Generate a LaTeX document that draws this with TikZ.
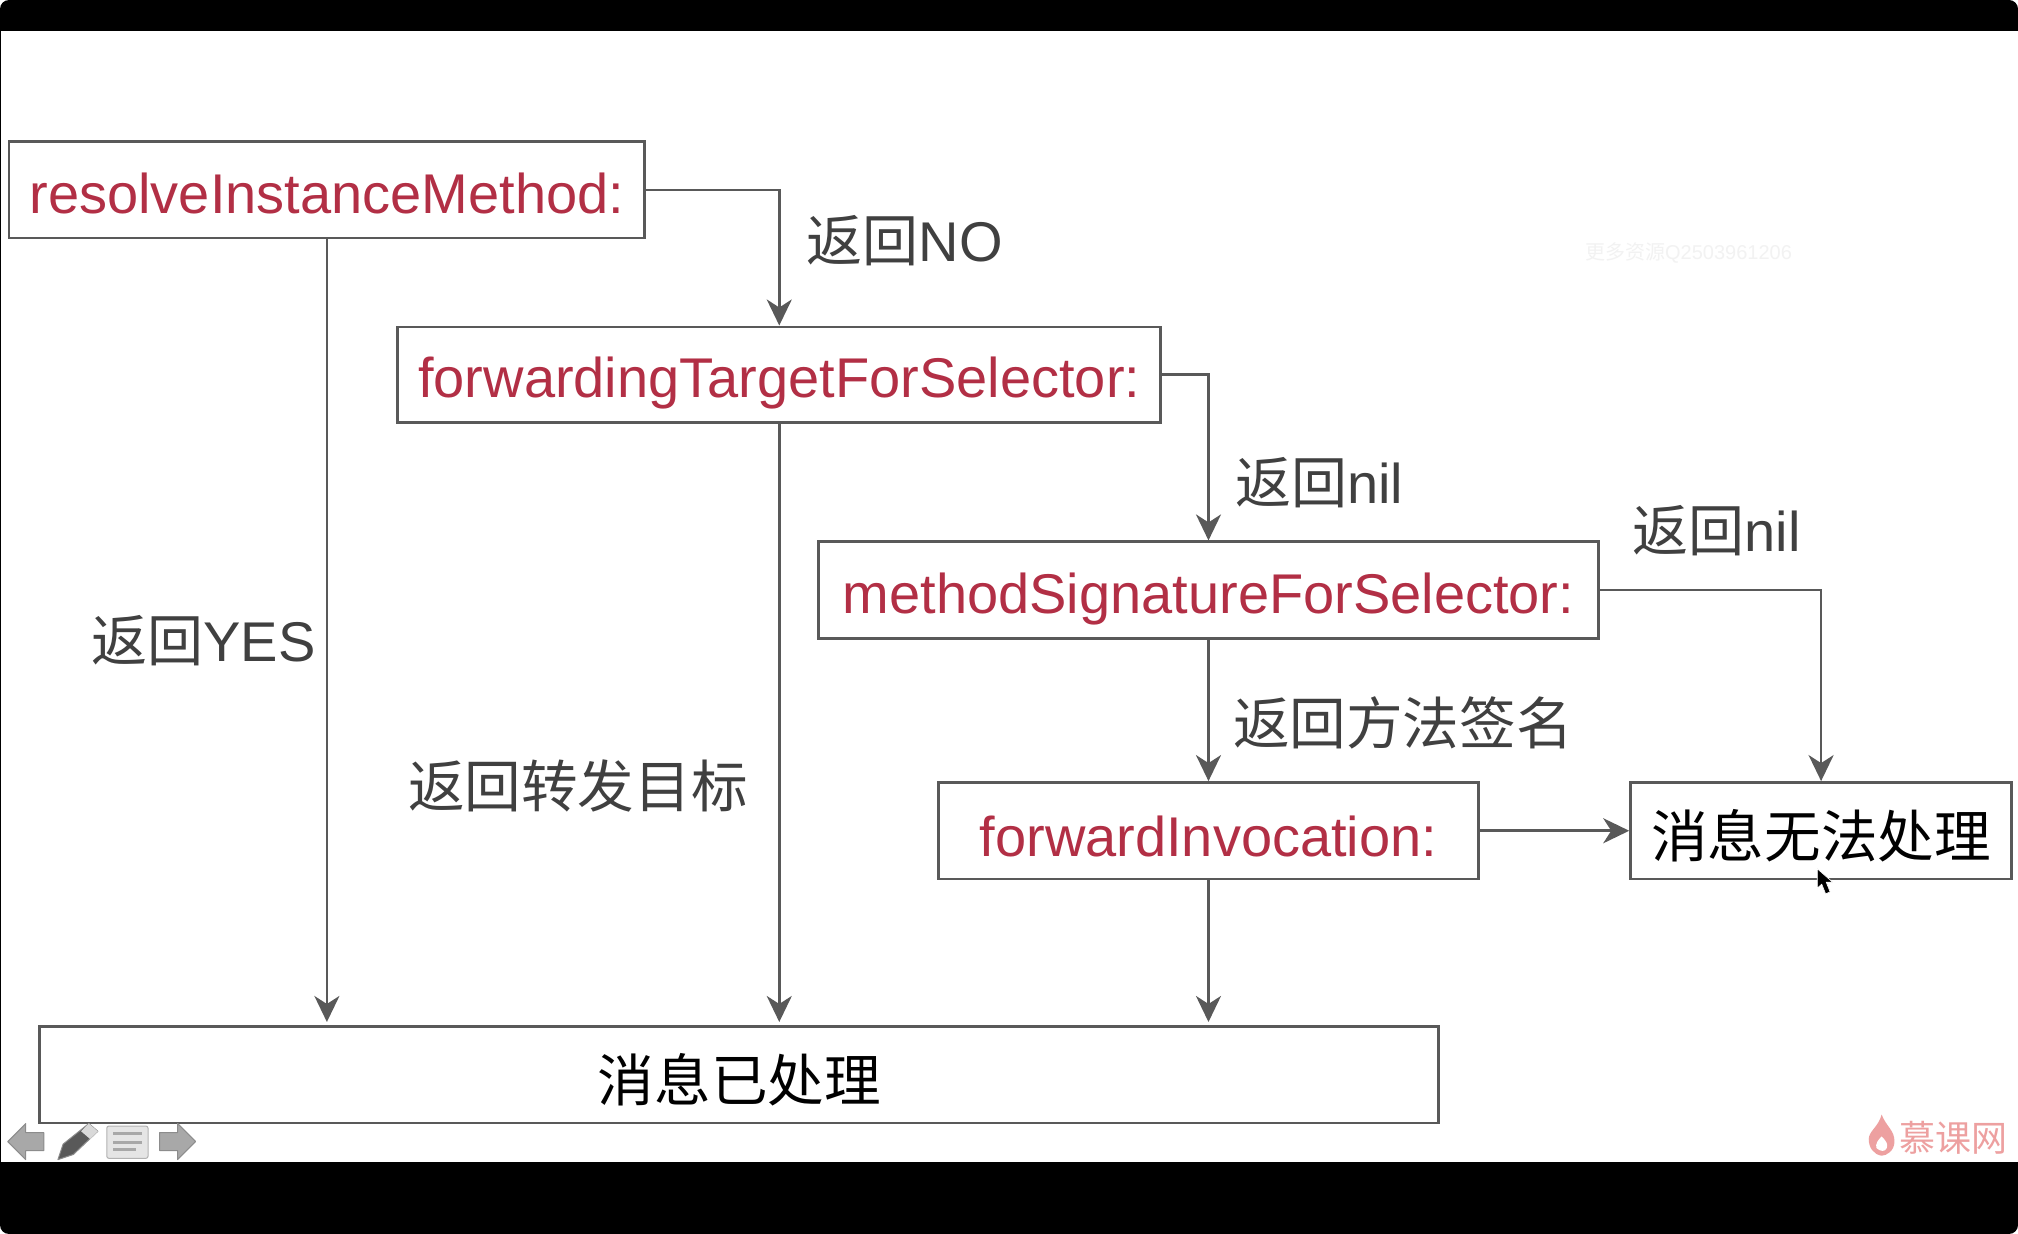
\documentclass[tikz,border=0pt]{standalone}
\usepackage{fontspec}
\setmainfont{Liberation Sans}
\newfontfamily\cjk{Noto Sans CJK SC}
\usetikzlibrary{arrows.meta,calc}
\definecolor{linegray}{HTML}{595959}
\definecolor{labelgray}{HTML}{404040}
\definecolor{methodred}{HTML}{B22F45}
\definecolor{logopink}{HTML}{EDA0A0}
\definecolor{iconfill}{HTML}{A8A8A8}
\definecolor{iconedge}{HTML}{8C8C8C}
\newcommand{\bigtxt}{\fontsize{56}{60}\selectfont}
\newcommand{\cjktxt}{\fontsize{56.6}{60}\selectfont\cjk}
\tikzset{
  x=1.287pt,y=-1.287pt,
  boxbase/.style={draw=linegray,line width=2.8pt,fill=white,inner sep=0pt,align=center,text height=46.5pt,text depth=0pt,font=\bigtxt},
  method/.style={boxbase,text=methodred},
  msg/.style={boxbase,text=black,font=\cjktxt,text height=54pt},
  lab/.style={text=labelgray,inner sep=0pt,font=\bigtxt},
  conn/.style={draw=linegray,line width=2.6pt,-{Stealth[length=26pt,width=25pt,inset=8pt]}},
  icon/.style={fill=iconfill,draw=iconedge,line width=1pt,line join=round},
}
\begin{document}
\begin{tikzpicture}
\useasboundingbox (0,0) rectangle (1568,958.8);
% window frame
\fill[white] (0,0) rectangle (1568,958.8);
\fill[black,rounded corners=9pt] (0,0) rectangle (1568,958.8);
\fill[white] (1,24) rectangle (1568,902.5);
% watermark
\node[inner sep=0pt,text=black!5,font=\fontsize{20}{22}\selectfont] (wm) at (1312,196.5) {{\cjk 更多资源}Q2503961206};
% boxes
\node[method,minimum width=494*1.287pt,minimum height=75*1.287pt] (A) at (254,147.5) {resolveInstanceMethod:};
\node[method,minimum width=593*1.287pt,minimum height=74*1.287pt] (B) at (605.5,291) {forwardingTargetForSelector:};
\node[method,minimum width=606*1.287pt,minimum height=75*1.287pt] (C) at (939,458.5) {methodSignatureForSelector:};
\node[method,text height=52pt,minimum width=420*1.287pt,minimum height=75*1.287pt] (D) at (939,645.5) {forwardInvocation:};
\node[msg,minimum width=296*1.287pt,minimum height=75*1.287pt] (E) at (1415,645.5) {消息无法处理};
\node[msg,minimum width=1087*1.287pt,minimum height=75*1.287pt] (F) at (574.5,835) {消息已处理};
% connectors
\draw[conn] (A.east) -| (B.north);
\draw[conn,shorten >=3pt] (A.south) -- (A.south |- F.north);
\draw[conn] (B.east) -| (C.north);
\draw[conn,shorten >=3pt] (B.south) -- (B.south |- F.north);
\draw[conn] (C.south) -- (D.north);
\draw[conn] (C.east) -| (E.north);
\draw[conn] (D.east) -- (E.west);
\draw[conn,shorten >=3pt] (D.south) -- (D.south |- F.north);
% labels
\node[lab] (l1) at (703,187) {{\cjk 返回}NO};
\node[lab] (l2) at (1025,375) {{\cjk 返回}nil};
\node[lab] (l3) at (1334,412) {{\cjk 返回}nil};
\node[lab] (l4) at (158,498) {{\cjk 返回}YES};
\node[lab,font=\cjktxt] (l5) at (449,611) {返回转发目标};
\node[lab,font=\cjktxt] (l6) at (1090,561.5) {返回方法签名};
% cursor
\fill[black,draw=white,line width=0.6pt] (1412,675) -- (1412,690) -- (1415.5,687) -- (1418.5,694.5) -- (1422,693) -- (1419,685.5) -- (1424,685.5) -- cycle;
% toolbar
\fill[icon] (6,887) -- (20,873) -- (20,880) -- (34,880) -- (34,894) -- (20,894) -- (20,901) -- cycle;
\fill[icon] (152,887) -- (138,873) -- (138,880) -- (124,880) -- (124,894) -- (138,894) -- (138,901) -- cycle;
\fill[draw=iconedge,fill=black!65,line width=1pt,line join=round] (45,901) -- (49,889) -- (69,873) -- (76,879) -- (57,897) -- cycle;
\fill[black!15] (69,873) -- (76,879) -- (70,885) -- (63,879) -- cycle;
\fill[fill=black!10,draw=black!30,line width=1pt,rounded corners=2pt] (83,875) rectangle (115,900);
\draw[iconfill,line width=3pt] (88,881) -- (110,881) (88,887.5) -- (110,887.5) (88,893.5) -- (106,893.5);
% logo
\fill[logopink] (1462,866) .. controls (1466,876) and (1472,878) .. (1472,887) .. controls (1472,894) and (1466,898) .. (1462,898) .. controls (1456,897) and (1452,892) .. (1452,885) .. controls (1452,879) and (1460,875) .. (1462,866) -- cycle;
\fill[white] (1462,883) .. controls (1466,887) and (1467,889) .. (1466,892) .. controls (1465,895) and (1461,895) .. (1458,892) .. controls (1457,889) and (1459,886) .. (1462,883) -- cycle;
\node[inner sep=0pt,text=logopink,font=\fontsize{36}{38}\selectfont\cjk] (logo) at (1518,884) {慕课网};
\end{tikzpicture}
\end{document}
